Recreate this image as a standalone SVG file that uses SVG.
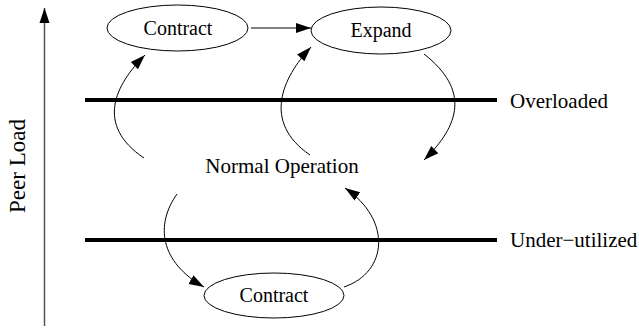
<svg xmlns="http://www.w3.org/2000/svg" width="639" height="333" viewBox="0 0 639 333">
<defs>
<style>
text{font-family:"Liberation Serif","Times New Roman",serif;font-size:20px;fill:#000}
.big{font-size:21px}
.node ellipse{fill:#fff;stroke:#000;stroke-width:1}
.c{text-anchor:middle}
.edge{fill:none;stroke:#000;stroke-width:1;marker-end:url(#ah)}
.level{stroke:#000;stroke-width:4}
</style>
<marker id="ah" markerUnits="userSpaceOnUse" markerWidth="16" markerHeight="12" refX="15" refY="5" orient="auto" viewBox="0 0 16 10">
<path d="M0,0 L15,5 L0,10 Z" fill="#000"/>
</marker>
<marker id="axh" markerUnits="userSpaceOnUse" markerWidth="16" markerHeight="12" refX="15" refY="5" orient="auto" viewBox="0 0 16 10">
<path d="M0,0 L15,5 L0,10 Z" fill="#000"/>
</marker>
</defs>
<rect width="639" height="333" fill="#fff"/>
<g id="axis">
<line x1="44.5" y1="326" x2="44.5" y2="8" stroke="#555" stroke-width="1.5" marker-end="url(#axh)"/>
<text transform="translate(25,166) rotate(-90)" class="c" style="font-size:23px">Peer Load</text>
</g>
<g id="levels">
<line class="level" x1="85" y1="100" x2="497" y2="100"/>
<text x="510" y="108" class="big">Overloaded</text>
<line class="level" x1="85" y1="240" x2="497" y2="240"/>
<text x="510" y="247" class="big">Under−utilized</text>
</g>
<g id="contract-top" class="node">
<ellipse cx="177.5" cy="28" rx="70.5" ry="23"/>
<text x="178" y="35" class="c">Contract</text>
</g>
<g id="expand" class="node">
<ellipse cx="381" cy="30.5" rx="70" ry="23.5"/>
<text x="381" y="37" class="c">Expand</text>
</g>
<g id="normal" class="node">
<text x="282" y="173" class="c big">Normal Operation</text>
</g>
<g id="contract-bottom" class="node">
<ellipse cx="274" cy="295.5" rx="70" ry="22.5"/>
<text x="274" y="302" class="c">Contract</text>
</g>
<g id="connectors">
<path class="edge" d="M251,28 L311,28"/>
<path class="edge" d="M144,158 C95,125 115,85 145,55"/>
<path class="edge" d="M310,155 C262,122 282,78 311,47"/>
<path class="edge" d="M424,54 C470,90 460,125 424,160"/>
<path class="edge" d="M177,194 C155,225 160,262 204,287"/>
<path class="edge" d="M344,287 C388,272 392,220 345,188"/>
</g>
</svg>
